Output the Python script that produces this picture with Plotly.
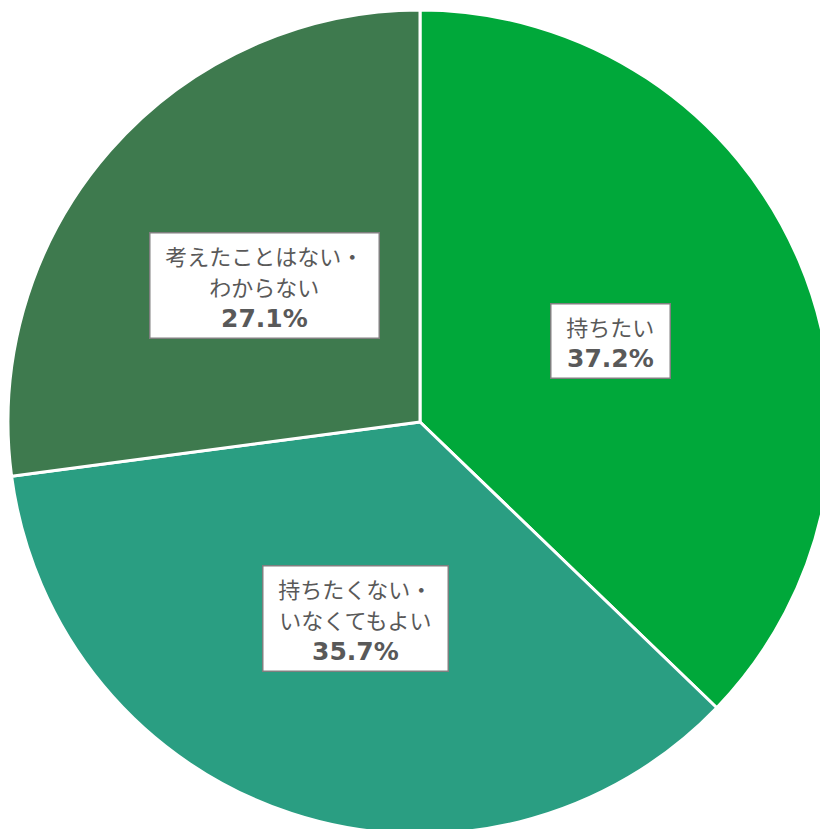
import math
import plotly.graph_objects as go

labels = ["持ちたい", "持ちたくない・<br>いなくてもよい", "考えたことはない・<br>わからない"]
values = [37.2, 35.7, 27.1]
colors = ["#00A83A", "#2A9E82", "#3E7A4E"]

W, H = 840, 844
CX, CY, R = 420, 422, 412  # pixel geometry of pie (from top-left)

xd = [(CX - R) / W, (CX + R) / W]
yd = [1 - (CY + R) / H, 1 - (CY - R) / H]

fig = go.Figure(go.Pie(
    labels=labels, values=values, sort=False, direction="clockwise", rotation=0,
    marker=dict(colors=colors, line=dict(color="white", width=3)),
    textinfo="none", hoverinfo="label+percent", showlegend=False,
    domain=dict(x=xd, y=yd),
))

JP = "font-family:Noto Sans CJK JP;font-size:22px"
PC = "font-family:DejaVu Sans;font-size:25px;font-weight:bold"
PAD = "<span style='font-family:Noto Sans CJK JP;font-size:22px'>&nbsp;&nbsp;</span>"

total = sum(values)
cum = 0
annotations = []
for lab, v in zip(labels, values):
    mid = (cum + v / 2) / total * 2 * math.pi
    cum += v
    px = CX + 0.502 * R * math.sin(mid)
    py = CY - 0.502 * R * math.cos(mid)
    lines = [f"{PAD}<span style='{JP}'>{ln}</span>{PAD}" for ln in lab.split("<br>")]
    lines.append(f"{PAD}<span style='{PC}'>{v:.1f}%</span>{PAD}")
    annotations.append(dict(
        x=px / W, y=1 - py / H, xref="paper", yref="paper", showarrow=False,
        xanchor="center", yanchor="middle",
        text="<br>".join(lines), align="center",
        font=dict(family="Noto Sans CJK JP", size=24, color="#595959"),
        bgcolor="white", bordercolor="#7F7F7F", borderwidth=1.5, borderpad=5,
    ))

fig.update_layout(
    width=W, height=H, margin=dict(l=0, r=0, t=0, b=0),
    paper_bgcolor="white", plot_bgcolor="white",
    annotations=annotations,
)

fig.write_html("out.html", config={"displayModeBar": False},
               post_script="document.documentElement.style.overflow='hidden';document.body.style.overflow='hidden';document.body.style.margin='0';")
